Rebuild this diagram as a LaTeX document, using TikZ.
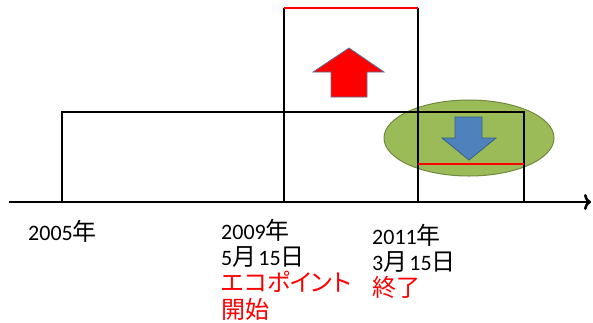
\documentclass[tikz,border=0pt]{standalone}
\usepackage{fontspec}
\setmainfont{Carlito}
\newfontfamily\jp[RawFeature=+palt]{Noto Sans CJK JP}
\usetikzlibrary{arrows.meta}
\definecolor{olive}{HTML}{9BBB59}
\definecolor{oliveedge}{HTML}{71893F}
\definecolor{arrowblue}{HTML}{4F81BD}
\definecolor{arrowblueedge}{HTML}{385D8A}
\definecolor{arrowrededge}{HTML}{5A6F99}
\newcommand{\J}[1]{{\jp\fontsize{24}{27}\selectfont #1}}
\tikzset{
  frame/.style={draw=black, line width=1.4pt},
  redline/.style={draw=red, line width=2.4pt},
  label/.style={inner sep=0pt, anchor=base west, font=\fontsize{22}{27}\selectfont},
  redlabel/.style={label, text=red},
}
\begin{document}
\begin{tikzpicture}[x=1pt, y=-1pt]
\useasboundingbox (0,0) rectangle (593,322);
% ellipse (behind)
\fill[olive, draw=oliveedge, line width=1pt] (469,138) ellipse [x radius=85, y radius=38];
% coordinates
\coordinate (A0) at (62,202);
\coordinate (A1) at (62,112);
\coordinate (B0) at (284,202);
\coordinate (B1) at (284,8);
\coordinate (C0) at (418,202);
\coordinate (C1) at (418,8);
\coordinate (C3) at (418,164);
\coordinate (D0) at (524,202);
\coordinate (D1) at (524,112);
\coordinate (D3) at (524,164);
\coordinate (axL) at (9,202);
\coordinate (axR) at (591,202);
% frames
\draw[frame] (A0) -- (A1) -- (D1) -- (D0);
\draw[frame] (B0) -- (B1);
\draw[frame] (C0) -- (C1);
\draw[redline] (B1) -- (C1);
\draw[redline] (C3) -- (D3);
% axis
\draw[line width=2.8pt, -{To[length=7pt, width=16pt, line width=2.6pt]}] (axL) -- (axR);
% arrows
\filldraw[fill=red, draw=arrowrededge, line width=0.8pt]
  (349,48) -- (384,72) -- (367,72) -- (367,97) -- (331,97) -- (331,72) -- (313,72) -- cycle;
\filldraw[fill=arrowblue, draw=arrowblueedge, line width=0.8pt]
  (455,117) -- (482,117) -- (482,138) -- (496,138) -- (469,160) -- (442,138) -- (455,138) -- cycle;
% labels
\node[label] (t2005) at (28,240) {2005\J{年}};
\node[label] (t2009a) at (221,239) {2009\J{年}};
\node[label] (t2009b) at (221,265) {5\J{月}\kern2pt 15\J{日}};
\node[redlabel] (t2009c) at (221,291) {\J{エコポイント}};
\node[redlabel] (t2009d) at (221,318) {\J{開始}};
\node[label] (t2011a) at (372,244) {2011\J{年}};
\node[label] (t2011b) at (372,270) {3\J{月}\kern2pt 15\J{日}};
\node[redlabel] (t2011c) at (372,296) {\J{終了}};
\end{tikzpicture}
\end{document}
